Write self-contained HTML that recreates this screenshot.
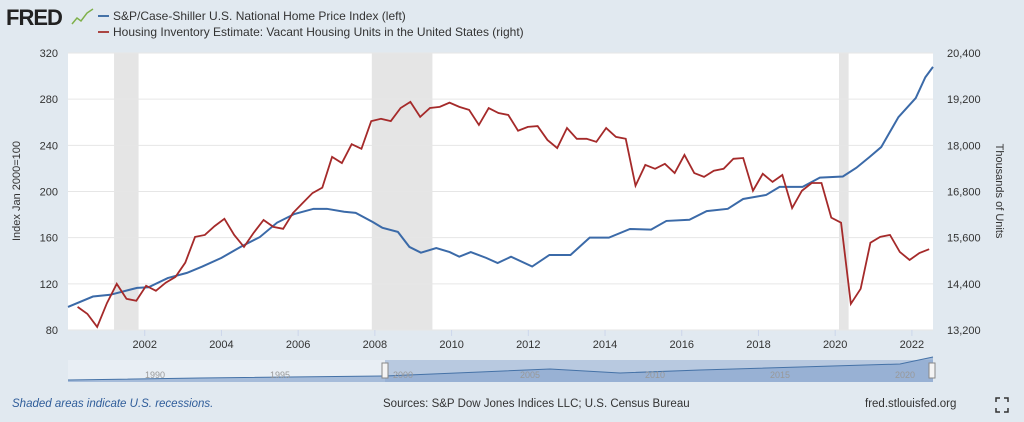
<!DOCTYPE html>
<html><head><meta charset="utf-8"><style>
body{margin:0;width:1024px;height:422px;background:#e1e9f0;font-family:"Liberation Sans",sans-serif;overflow:hidden}
svg{display:block}
</style></head><body>
<svg id="chart" width="1024" height="422" xmlns="http://www.w3.org/2000/svg">
<rect width="1024" height="422" fill="#e1e9f0"/>
<text x="6" y="25" font-size="22" font-weight="bold" fill="#222" font-family="Liberation Sans,sans-serif" letter-spacing="-1">FRED</text>
<polyline points="72,24 77,18 81,21 87,13 93,9" fill="none" stroke="#7fb04a" stroke-width="1.5"/>
<g>
<line x1="98" y1="16" x2="109" y2="16" stroke="#4572a7" stroke-width="2"/>
<text x="113" y="20" font-size="12" fill="#333">S&amp;P/Case-Shiller U.S. National Home Price Index (left)</text>
<line x1="98" y1="32" x2="109" y2="32" stroke="#aa4643" stroke-width="2"/>
<text x="113" y="36" font-size="12" fill="#333">Housing Inventory Estimate: Vacant Housing Units in the United States (right)</text>
</g>
<rect x="68" y="53" width="865" height="277" fill="#fff"/>
<g id="rec"></g><g id="grid"></g><g id="axes"></g><g id="series"></g>
<text transform="translate(20,191) rotate(-90)" text-anchor="middle" font-size="11" fill="#333">Index Jan 2000=100</text>
<text transform="translate(996,191) rotate(90)" text-anchor="middle" font-size="11" fill="#333">Thousands of Units</text>
<g>
<rect x="68" y="360" width="865" height="22" fill="#e8eef4"/>
<rect x="385" y="360" width="548" height="22" fill="#b8c9e0"/>
<path d="M68,380 L200,378 L385,376 L480,372 L550,369 L620,373 L700,370 L800,367 L900,364 L933,357 L933,382 L68,382Z" fill="#8aa7cf" opacity="0.7"/>
<polyline points="68,380 200,378 385,376 480,372 550,369 620,373 700,370 800,367 900,364 933,357" fill="none" stroke="#4572a7" stroke-width="1"/>
<g font-size="9" fill="#999"><text x="145" y="378">1990</text><text x="270" y="378">1995</text><text x="393" y="378">2000</text><text x="520" y="378">2005</text><text x="645" y="378">2010</text><text x="770" y="378">2015</text><text x="895" y="378">2020</text></g>
<rect x="382" y="363" width="6" height="15" fill="#f4f4f4" stroke="#888"/>
<rect x="929" y="363" width="6" height="15" fill="#f4f4f4" stroke="#888"/>
</g>
<text x="12" y="407" font-size="11.5" font-style="italic" fill="#2f5d9a">Shaded areas indicate U.S. recessions.</text>
<text x="383" y="407" font-size="11.5" fill="#333">Sources: S&amp;P Dow Jones Indices LLC; U.S. Census Bureau</text>
<text x="865" y="407" font-size="11.5" fill="#333">fred.stlouisfed.org</text>
<g stroke="#333" stroke-width="1.5" fill="none"><path d="M996,402v-4h4M1004,398h4v4M1008,408v4h-4M1000,412h-4v-4"/></g>
</svg>
<script>
const recStart=[2001.2,2007.92,2020.1];
const recEnd=[2001.84,2009.5,2020.35];
const leftTicks=[80,120,160,200,240,280,320];
const rightTicks=[13200,14400,15600,16800,18000,19200,20400];
const xTicks=[2002,2004,2006,2008,2010,2012,2014,2016,2018,2020,2022];
const hpiDates=[2000.0,2000.65,2001.1,2001.8,2002.1,2002.6,2003.1,2003.5,2004.0,2004.5,2005.0,2005.45,2005.9,2006.4,2006.75,2007.2,2007.5,2007.95,2008.2,2008.6,2008.9,2009.2,2009.6,2009.95,2010.2,2010.5,2010.9,2011.2,2011.55,2012.1,2012.55,2013.1,2013.6,2014.1,2014.65,2015.2,2015.6,2016.2,2016.65,2017.2,2017.6,2018.2,2018.55,2019.15,2019.6,2020.2,2020.55,2020.9,2021.2,2021.65,2022.1,2022.35,2022.55];
const hpiValues=[100,109,110.5,116.5,117,125,129.5,135,142.5,152,160.5,173,180.5,185,185,182.5,181.5,173.5,168.5,165,152,147,151,147.5,143.5,147.5,142.5,138,143.5,135,145,145,160,160,167.5,167,174.5,175.5,183,185,193.5,197,204,204,212,213,220.5,230,238.5,264.5,281,299,308];
const vacValues=[13800,13620,13280,13900,14400,14010,13960,14350,14220,14430,14580,14950,15620,15670,15900,16090,15670,15360,15730,16060,15880,15830,16240,16500,16760,16900,17700,17540,18030,17910,18630,18690,18630,18970,19130,18740,18970,19000,19110,19000,18920,18530,18970,18840,18790,18380,18480,18500,18140,17930,18450,18170,18170,18090,18450,18220,18170,16950,17490,17390,17520,17280,17750,17280,17180,17340,17390,17650,17670,16820,17260,17050,17230,16370,16820,17020,17020,16120,15990,13880,14270,15470,15620,15670,15230,15020,15200,15300];
const vacStart=2000.25, vacEnd=2022.45;
const X0=68,X1=933,Y0=330,Y1=53;
const xs=t=>X0+(t-2000)/(2022.55-2000)*(X1-X0);
const yl=v=>Y0-(v-80)/(320-80)*(Y0-Y1);
const yr=v=>Y0-(v-13200)/(20400-13200)*(Y0-Y1);
const NS="http://www.w3.org/2000/svg";
function mk(tag,attrs,parent){const e=document.createElementNS(NS,tag);for(const k in attrs)e.setAttribute(k,attrs[k]);document.getElementById(parent).appendChild(e);return e;}
recStart.forEach((s,i)=>{const e=mk('rect',{x:xs(s),y:Y1,width:xs(recEnd[i])-xs(s),height:Y0-Y1,fill:'#e5e5e5'},'rec');

});
leftTicks.forEach((v,i)=>{const y=yl(v);
const g=mk('line',{x1:X0,x2:X1,y1:y,y2:y,stroke:'#e6e6e6','stroke-width':1},'grid');


const t=mk('text',{x:58,y:y+4,'text-anchor':'end','font-size':11,fill:'#333'},'axes');t.textContent=v;


const r=mk('text',{x:947,y:yr(rightTicks[i])+4,'font-size':11,fill:'#333'},'axes');r.textContent=rightTicks[i].toLocaleString('en-US');

});
xTicks.forEach(t=>{const x=xs(t);
const l=mk('line',{x1:x,x2:x,y1:Y0,y2:Y0+6,stroke:'#ccd6eb'},'axes');


const tx=mk('text',{x:x,y:Y0+18,'text-anchor':'middle','font-size':11,fill:'#333'},'axes');tx.textContent=t;

});
const hp=mk('polyline',{points:hpiDates.map((d,i)=>xs(d)+','+yl(hpiValues[i])).join(' '),fill:'none',stroke:'#3b6aa8','stroke-width':2},'series');


const n=vacValues.length;
const vp=mk('polyline',{points:vacValues.map((v,i)=>xs(vacStart+i*(vacEnd-vacStart)/(n-1))+','+yr(v)).join(' '),fill:'none',stroke:'#a52a2a','stroke-width':1.8},'series');


</script>
</body></html>
